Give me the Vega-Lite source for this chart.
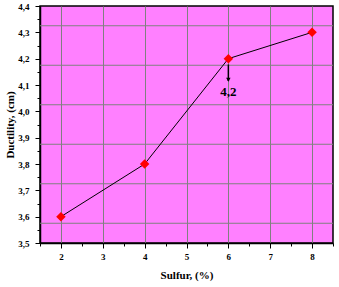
{
  "$schema": "https://vega.github.io/schema/vega-lite/v6.json",
  "width": 293,
  "height": 237,
  "autosize": {"type": "none"},
  "padding": {"left": 40, "top": 6, "right": 6, "bottom": 44},
  "background": "white",
  "config": {
    "view": {"fill": "#FF80FF", "stroke": "black", "strokeWidth": 1.5},
    "axis": {
      "labelFont": "serif",
      "titleFont": "serif",
      "labelFontWeight": "bold",
      "titleFontWeight": "bold",
      "labelColor": "black",
      "titleColor": "black",
      "labelFontSize": 9,
      "titleFontSize": 11,
      "domainColor": "black",
      "tickColor": "black",
      "domainWidth": 1.5
    }
  },
  "datasets": {
    "pts": [
      {"s": 2, "d": 3.6},
      {"s": 4, "d": 3.8},
      {"s": 6, "d": 4.2},
      {"s": 8, "d": 4.3}
    ],
    "hgrid": [
      {"g": 3.575}, {"g": 3.725}, {"g": 3.875}, {"g": 4.025}, {"g": 4.175}, {"g": 4.325}
    ],
    "arrow": [
      {"s": 6, "d": 4.178, "d2": 4.115}
    ],
    "head": [
      {"s": 6, "d": 4.12}
    ],
    "lbl": [
      {"s": 6, "d": 4.073, "t": "4,2"}
    ]
  },
  "resolve": {"axis": {"y": "independent"}},
  "layer": [
    {
      "data": {"name": "hgrid"},
      "mark": {"type": "rule", "color": "#808080", "strokeWidth": 1},
      "encoding": {
        "y": {
          "field": "g", "type": "quantitative",
          "scale": {"domain": [3.5, 4.4], "nice": false, "zero": false},
          "axis": {"orient": "left", "values": [3.5], "labels": false, "ticks": false, "domain": false, "grid": false, "title": null}
        }
      }
    },
    {
      "encoding": {
        "x": {
          "field": "s", "type": "quantitative",
          "scale": {"domain": [1.5, 8.5], "nice": false, "zero": false},
          "axis": {
            "title": "Sulfur, (%)",
            "values": [1.5, 2, 2.5, 3, 3.5, 4, 4.5, 5, 5.5, 6, 6.5, 7, 7.5, 8, 8.5],
            "labelExpr": "datum.value % 1 != 0 ? '' : format(datum.value, 'd')",
            "grid": true,
            "gridColor": "#808080",
            "gridWidth": 1,
            "gridOpacity": {"condition": {"test": "datum.value % 1 != 0", "value": 0}, "value": 1},
            "tickSize": {"condition": {"test": "datum.value % 1 != 0", "value": 3}, "value": 5},
            "labelPadding": 4,
            "titlePadding": 8
          }
        },
        "y": {
          "field": "d", "type": "quantitative",
          "scale": {"domain": [3.5, 4.4], "nice": false, "zero": false},
          "axis": {
            "orient": "left",
            "title": "Ductility, (cm)",
            "values": [3.5, 3.55, 3.6, 3.65, 3.7, 3.75, 3.8, 3.85, 3.9, 3.95, 4.0, 4.05, 4.1, 4.15, 4.2, 4.25, 4.3, 4.35, 4.4],
            "labelExpr": "round(datum.value*100) % 10 != 0 ? '' : replace(format(datum.value, '.1f'), '.', ',')",
            "grid": false,
            "tickSize": {"condition": {"test": "round(datum.value*100) % 10 != 0", "value": 3}, "value": 5},
            "labelPadding": 6,
            "titlePadding": 2
          }
        }
      },
      "layer": [
        {
          "data": {"name": "pts"},
          "mark": {"type": "line", "color": "black", "strokeWidth": 1}
        },
        {
          "data": {"name": "pts"},
          "mark": {"type": "point", "shape": "diamond", "filled": true, "color": "#FF0000", "size": 90, "opacity": 1}
        },
        {
          "data": {"name": "arrow"},
          "mark": {"type": "rule", "color": "black", "strokeWidth": 1.5},
          "encoding": {"y2": {"field": "d2"}}
        },
        {
          "data": {"name": "head"},
          "mark": {"type": "point", "shape": "triangle-down", "filled": true, "color": "black", "size": 20, "opacity": 1}
        },
        {
          "data": {"name": "lbl"},
          "mark": {"type": "text", "font": "serif", "fontWeight": "bold", "fontSize": 13, "color": "black"},
          "encoding": {"text": {"field": "t"}}
        }
      ]
    }
  ]
}
